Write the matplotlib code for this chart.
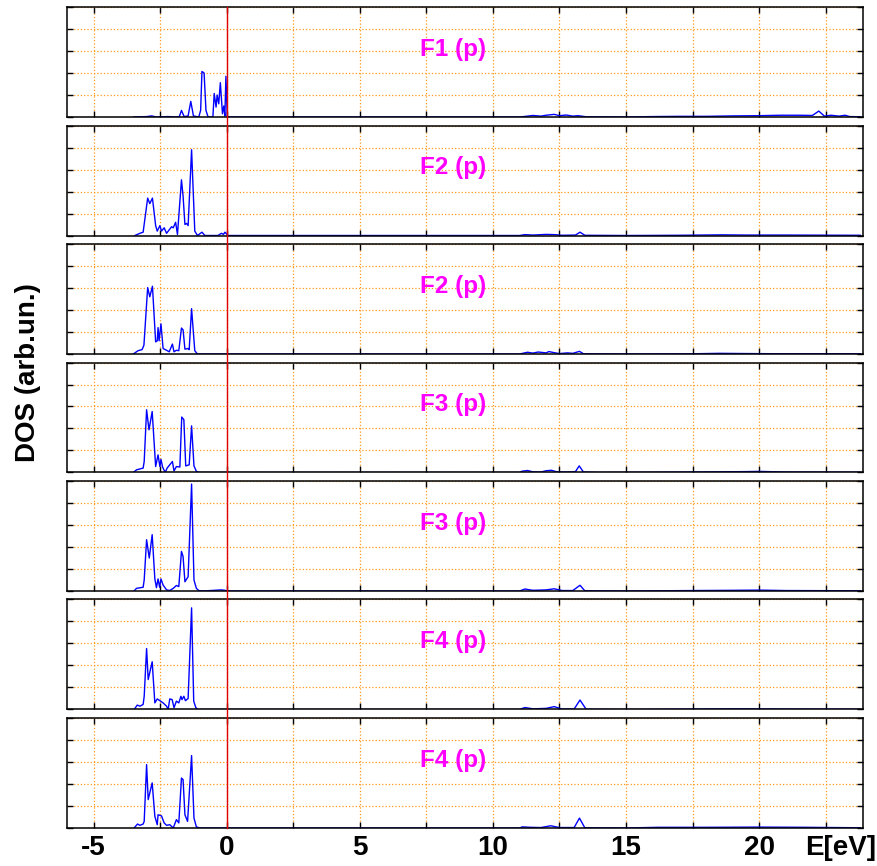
import matplotlib

matplotlib.use("Agg")
import matplotlib.pyplot as plt
from matplotlib.lines import Line2D
from matplotlib.ticker import MultipleLocator
from matplotlib import transforms

plt.rcParams["font.family"] = ["Liberation Sans", "DejaVu Sans"]
plt.rcParams["axes.unicode_minus"] = False

# --- data (energy in eV, DOS in arb. units) ---
labels = ["F1 (p)", "F2 (p)", "F2 (p)", "F3 (p)", "F3 (p)", "F4 (p)", "F4 (p)"]

f1_e = [-3.50, -3.0, -2.82, -2.65, -2.2, -1.95, -1.78, -1.70, -1.60, -1.45, -1.35,
        -1.25, -1.05, -0.98, -0.93, -0.85, -0.78, -0.70, -0.52, -0.47, -0.40,
        -0.36, -0.30, -0.24, -0.16, -0.11, -0.07, -0.03, 0.02, 11.0, 11.3, 11.5,
        11.8, 12.0, 12.3, 12.5, 12.75, 13.0, 13.2, 13.5, 15.0, 16.0, 17.0, 18.0,
        19.0, 20.0, 20.8, 21.5, 22.0, 22.24, 22.45, 22.7, 23.0, 23.23, 23.4, 23.8]
f1_dos = [0, 0.02, 0.05, 0.0, 0.02, 0.0, 0.02, 0.30, 0.02, 0.05, 0.71,
          0.05, 0.0, 0.3, 2.07, 2.0, 0.3, 0.0, 0.0, 1.07, 0.45,
          1.0, 0.6, 1.56, 0.15, 0.5, 0.05, 1.85, 0, 0, 0.04, 0.07,
          0.04, 0.08, 0.12, 0.06, 0.09, 0.04, 0.06, 0.01, 0.0, 0.02, 0.03, 0.03,
          0.05, 0.06, 0.08, 0.08, 0.07, 0.27, 0.04, 0.08, 0.04, 0.08, 0.02, 0.01]

f2a_e = [-3.45, -3.26, -3.14, -2.97, -2.89, -2.79, -2.67, -2.61, -2.51, -2.45,
         -2.35, -2.26, -2.07, -2.01, -1.92, -1.85, -1.70, -1.64, -1.57, -1.51,
         -1.45, -1.32, -1.20, -1.10, -0.93, -0.82, -0.33, -0.20, -0.12, -0.07,
         -0.01, 0.05, 11.0, 11.2, 11.5, 12.0, 12.3, 12.6, 13.1, 13.27, 13.45,
         15.0, 17.0, 18.6, 19.5, 21.0, 23.8]
f2a_dos = [0, 0.1, 0.15, 1.7, 1.45, 1.7, 0.45, 0.2, 0.45, 0.2,
           0.35, 0.1, 0.4, 0.35, 0.6, 0.05, 2.53, 1.8, 0.5, 0.55,
           0.45, 3.9, 0.2, 0, 0.15, 0, 0, 0.1, 0.05, 0.15,
           0.08, 0, 0, 0.04, 0.02, 0.05, 0.04, 0.01, 0.02, 0.15, 0.01,
           0, 0.01, 0.03, 0.02, 0.02, 0.01]

f2b_e = [-3.51, -3.33, -3.18, -3.11, -2.97, -2.89, -2.79, -2.67, -2.61, -2.58,
         -2.54, -2.47, -2.39, -2.26, -2.16, -2.04, -1.98, -1.89, -1.80, -1.70,
         -1.64, -1.57, -1.45, -1.41, -1.32, -1.20, -1.10, 11.0, 11.3, 11.5,
         11.7, 12.0, 12.1, 12.3, 12.5, 12.8, 13.0, 13.25, 13.4, 15.0, 17.5,
         18.5, 19.5, 21.0, 23.8]
f2b_dos = [0, 0.15, 0.2, 0.4, 3.02, 2.6, 3.08, 0.55, 0.6, 1.2,
           0.6, 1.37, 0.25, 0.17, 0.1, 0.45, 0.1, 0.17, 0.15, 1.18,
           1.1, 0.22, 0.25, 0.2, 2.06, 0.15, 0, 0, 0.08, 0.04,
           0.09, 0.05, 0.11, 0.06, 0.02, 0.05, 0.03, 0.12, 0.01, 0, 0.01,
           0.03, 0.02, 0.01, 0.01]

f3a_e = [-3.51, -3.39, -3.14, -3.10, -3.01, -2.92, -2.80, -2.67, -2.58, -2.51,
         -2.47, -2.41, -2.31, -2.24, -2.14, -2.04, -1.98, -1.89, -1.76, -1.69,
         -1.61, -1.54, -1.41, -1.32, -1.23, -1.14, -1.01, 11.0, 11.1, 11.3,
         11.5, 11.8, 12.0, 12.2, 12.4, 12.8, 13.1, 13.24, 13.4, 14.0, 16.0,
         17.5, 18.5, 19.5, 20.0, 21.0, 23.8]
f3a_dos = [0, 0.12, 0.2, 0.5, 2.85, 1.94, 2.77, 0.27, 0.8, 0.27,
           0.6, 0.25, 0, 0.2, 0.35, 0.5, 0.07, 0.27, 0.25, 2.52,
           2.4, 0.3, 0.35, 2.12, 0.3, 0.05, 0, 0, 0.06, 0.09,
           0.03, 0.02, 0.08, 0.1, 0.03, 0.02, 0.04, 0.3, 0.02, 0, 0.01,
           0.02, 0.03, 0.04, 0.05, 0.02, 0.01]

f3b_e = [-3.48, -3.39, -3.14, -3.10, -3.01, -2.91, -2.80, -2.70, -2.64, -2.58,
         -2.52, -2.47, -2.39, -2.26, -2.14, -2.01, -1.89, -1.80, -1.70, -1.64,
         -1.57, -1.45, -1.32, -1.23, -1.14, -1.05, -0.89, -0.20, -0.07, 0.05,
         11.0, 11.2, 11.5, 12.0, 12.3, 12.6, 13.0, 13.27, 13.45, 15.0, 17.5,
         19.0, 20.0, 21.0, 23.8]
f3b_dos = [0, 0.12, 0.17, 0.5, 2.33, 1.5, 2.56, 0.55, 0.15, 0.55,
           0.17, 0.55, 0.27, 0.05, 0.02, 0.12, 0.25, 0.2, 1.8, 1.57,
           0.42, 0.65, 4.86, 0.5, 0.12, 0.02, 0, 0.05, 0.03, 0,
           0, 0.09, 0.03, 0.05, 0.1, 0.02, 0.02, 0.26, 0.01, 0, 0.02,
           0.03, 0.04, 0.02, 0.01]

f4a_e = [-3.48, -3.36, -3.26, -3.14, -3.10, -3.01, -2.95, -2.80, -2.70, -2.61,
         -2.51, -2.39, -2.26, -2.20, -2.14, -2.05, -1.98, -1.89, -1.80, -1.72,
         -1.68, -1.61, -1.55, -1.45, -1.32, -1.24, -1.16, -1.08, 11.0, 11.2,
         11.5, 12.0, 12.3, 12.6, 13.05, 13.27, 13.5, 15.0, 18.0, 19.3, 20.5, 23.8]
f4a_dos = [0, 0.2, 0.15, 0.23, 0.6, 2.77, 1.36, 2.17, 0.3, 0.48,
           0.4, 0.3, 0.15, 0.0, 0.48, 0.45, 0.08, 0.38, 0.3, 0.6,
           0.45, 0.6, 0.4, 0.5, 4.62, 0.38, 0.08, 0, 0, 0.09,
           0.03, 0.05, 0.13, 0.02, 0.02, 0.43, 0.01, 0, 0.02, 0.03, 0.02, 0.01]

f4b_e = [-3.48, -3.35, -3.26, -3.14, -3.10, -3.01, -2.95, -2.80, -2.70, -2.61,
         -2.58, -2.45, -2.35, -2.26, -2.14, -2.01, -1.89, -1.80, -1.70, -1.64,
         -1.57, -1.47, -1.32, -1.23, -1.14, -1.01, 11.0, 11.1, 11.4, 11.8,
         12.17, 12.5, 13.05, 13.25, 13.45, 15.0, 16.2, 18.0, 20.0, 21.8, 23.8]
f4b_dos = [0, 0.18, 0.12, 0.18, 0.3, 2.88, 1.29, 2.05, 0.53, 0.15,
           0.6, 0.55, 0.23, 0.12, 0.15, 0, 0.38, 0.23, 2.27, 2.2,
           0.6, 0.3, 3.29, 0.45, 0.05, 0, 0, 0.05, 0.03, 0.02,
           0.1, 0.02, 0.02, 0.45, 0.01, 0, 0.03, 0.03, 0.04, 0.03, 0.01]

energies = [f1_e, f2a_e, f2b_e, f3a_e, f3b_e, f4a_e, f4b_e]
dos_values = [f1_dos, f2a_dos, f2b_dos, f3a_dos, f3b_dos, f4a_dos, f4b_dos]

x_ticks = [-5, 0, 5, 10, 15, 20]


def style_panel(ax, is_bottom):
    ax.set_xlim(-6, 23.9)
    ax.set_ylim(0, 5)
    ax.xaxis.set_major_locator(MultipleLocator(5))
    ax.xaxis.set_minor_locator(MultipleLocator(2.5))
    ax.yaxis.set_major_locator(MultipleLocator(1))
    ax.grid(which="both", axis="x", color="#ff9a1a", linestyle=":", linewidth=0.9)
    ax.grid(which="major", axis="y", color="#ff9a1a", linestyle=":", linewidth=0.9)
    ax.tick_params(which="both", direction="in", top=True, right=True,
                   length=4, width=1, colors="black")
    ax.set_yticklabels([])
    if is_bottom:
        ax.set_xticks(x_ticks)
        ax.set_xticklabels([str(t) for t in x_ticks], fontsize=20,
                           fontweight="bold")
        ax.tick_params(axis="x", which="major", pad=5)
    else:
        ax.tick_params(labelbottom=False)
    for sp in ax.spines.values():
        sp.set_linewidth(1.1)


fig, axes = plt.subplots(7, 1, figsize=(8.78, 8.66), dpi=100, sharex=True)
fig.subplots_adjust(left=0.0763, right=0.9829, top=0.9919, bottom=0.0439,
                    hspace=0.0773)

for i, ax in enumerate(axes):
    ax.plot(energies[i], dos_values[i], color="#0000ff", linewidth=1.0)
    style_panel(ax, i == len(axes) - 1)
    ax.text(0.485, 0.615, labels[i], transform=ax.transAxes, color="#ff00ff",
            fontsize=17.5, fontweight="bold", ha="center", va="center")

# Fermi level line through all panels
trans = transforms.blended_transform_factory(axes[-1].transData, fig.transFigure)
fig.add_artist(Line2D([0, 0], [0.0439, 0.9919], transform=trans,
                      color="#e00000", linewidth=1.0))

fig.text(0.032, 0.57, "DOS (arb.un.)", rotation=90, fontsize=20,
         fontweight="bold", ha="center", va="center")
fig.text(0.998, 0.021, "E[eV]", fontsize=20, fontweight="bold",
         ha="right", va="center")

fig.savefig("out.png", dpi=100)
